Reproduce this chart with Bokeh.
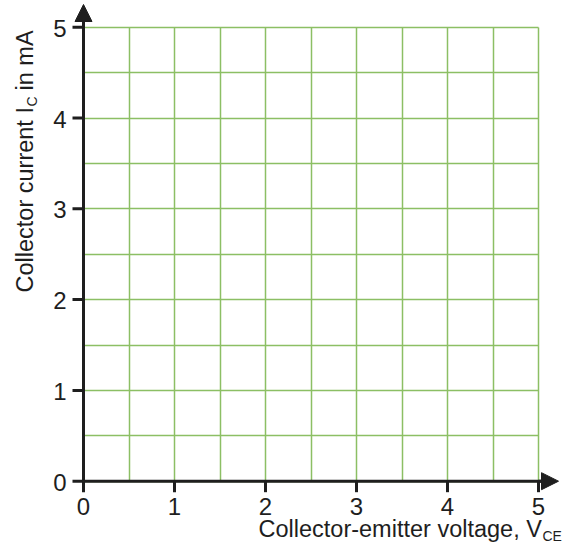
import math
from bokeh.plotting import figure
from bokeh.models import Range1d, FixedTicker, Label, Arrow, NormalHead, Grid
from bokeh.core.properties import value
from bokeh.embed import file_html
from bokeh.resources import INLINE

# ---- data ----
x_ticks = [0, 1, 2, 3, 4, 5]
y_ticks = [0, 1, 2, 3, 4, 5]
x_tick_labels = ["0", "1", "2", "3", "4", "5"]
y_tick_labels = ["0", "1", "2", "3", "4", "5"]
grid_steps = [0, 0.5, 1, 1.5, 2, 2.5, 3, 3.5, 4, 4.5, 5]
x_label_main = "Collector-emitter voltage, V"
x_label_sub = "CE"
y_label_main = "Collector current I"
y_label_sub = "C"
y_label_tail = "in mA"

FONT = "Liberation Sans"
INK = "#1e1e1e"
GREEN = "#8cbf64"

W, H = 570, 548
# pixel scale: x=0 at 83 px, 91 px/unit; y=0 at 480.7 px, 90.8 px/unit
PX_X = 91.0
PX_Y = 90.8
BASE_SHIFT = 0.375  # em offset of the svg "alphabetic" baseline


def px_x(px):
    return (px - 83) / PX_X


def px_y(py):
    return (480.7 - py) / PX_Y


p = figure(width=W, height=H,
           x_range=Range1d(px_x(0), px_x(W)), y_range=Range1d(px_y(H), px_y(0)),
           x_axis_location=None, y_axis_location=None,
           min_border_left=0, min_border_right=0, min_border_top=0,
           min_border_bottom=0, toolbar_location=None, output_backend="svg")
p.outline_line_color = None
p.background_fill_color = "white"
p.border_fill_color = "white"
for g in list(p.grid):
    g.visible = False

# grid
for dim in (0, 1):
    g = Grid(dimension=dim, ticker=FixedTicker(ticks=grid_steps),
             grid_line_color=GREEN, grid_line_width=1.5,
             bounds=(0, 5), cross_bounds=(0, 5))
    p.add_layout(g)

TICK_X = 11 / PX_X
TICK_Y = 11 / PX_Y

# axis lines
p.segment(x0=[0, 0], y0=[0, 0], x1=[5.1, 0], y1=[0, 5.1],
          line_color=INK, line_width=3)

# ticks
p.segment(x0=x_ticks, y0=[0] * len(x_ticks), x1=x_ticks, y1=[-TICK_Y] * len(x_ticks),
          line_color=INK, line_width=3)
p.segment(x0=[0] * len(y_ticks), y0=y_ticks, x1=[-TICK_X] * len(y_ticks), y1=y_ticks,
          line_color=INK, line_width=3)

# tick labels
p.text(x=x_ticks, y=[px_y(514.5 - 24 * BASE_SHIFT)] * len(x_ticks), text=x_tick_labels,
       text_font=value(FONT), text_font_size=value("24px"), text_color=INK,
       text_align="center", text_baseline="alphabetic")
p.text(x=[px_x(66)] * len(y_ticks),
       y=[t - (10 - 24 * BASE_SHIFT) / PX_Y for t in y_ticks], text=y_tick_labels,
       text_font=value(FONT), text_font_size=value("24px"), text_color=INK,
       text_align="right", text_baseline="alphabetic")

# x label
p.add_layout(Label(x=px_x(258), y=px_y(537 - 23.5 * BASE_SHIFT), text=x_label_main,
                   text_font=FONT, text_font_size="23.5px", text_color=INK,
                   text_align="left", text_baseline="alphabetic"))
p.add_layout(Label(x=px_x(542), y=px_y(541 - 14 * BASE_SHIFT), text=x_label_sub,
                   text_font=FONT, text_font_size="14px", text_color=INK,
                   text_align="left", text_baseline="alphabetic"))

# y label (rotated)
p.add_layout(Label(x=px_x(33 - 23.5 * BASE_SHIFT), y=px_y(292), text=y_label_main,
                   angle=math.pi / 2,
                   text_font=FONT, text_font_size="23.5px", text_color=INK,
                   text_align="left", text_baseline="alphabetic"))
p.add_layout(Label(x=px_x(37 - 14 * BASE_SHIFT), y=px_y(106), text=y_label_sub,
                   angle=math.pi / 2,
                   text_font=FONT, text_font_size="14px", text_color=INK,
                   text_align="left", text_baseline="alphabetic"))
p.add_layout(Label(x=px_x(33 - 23.5 * BASE_SHIFT), y=px_y(90), text=y_label_tail,
                   angle=math.pi / 2,
                   text_font=FONT, text_font_size="23.5px", text_color=INK,
                   text_align="left", text_baseline="alphabetic"))

# arrow heads
p.add_layout(Arrow(end=NormalHead(size=17, fill_color=INK, line_color=INK),
                   x_start=5.0, y_start=0, x_end=px_x(558), y_end=0,
                   line_width=3, line_color=INK))
p.add_layout(Arrow(end=NormalHead(size=17, fill_color=INK, line_color=INK),
                   x_start=0, y_start=5.0, x_end=0, y_end=px_y(4),
                   line_width=3, line_color=INK))

open("out.html", "w").write(file_html(p, INLINE))
